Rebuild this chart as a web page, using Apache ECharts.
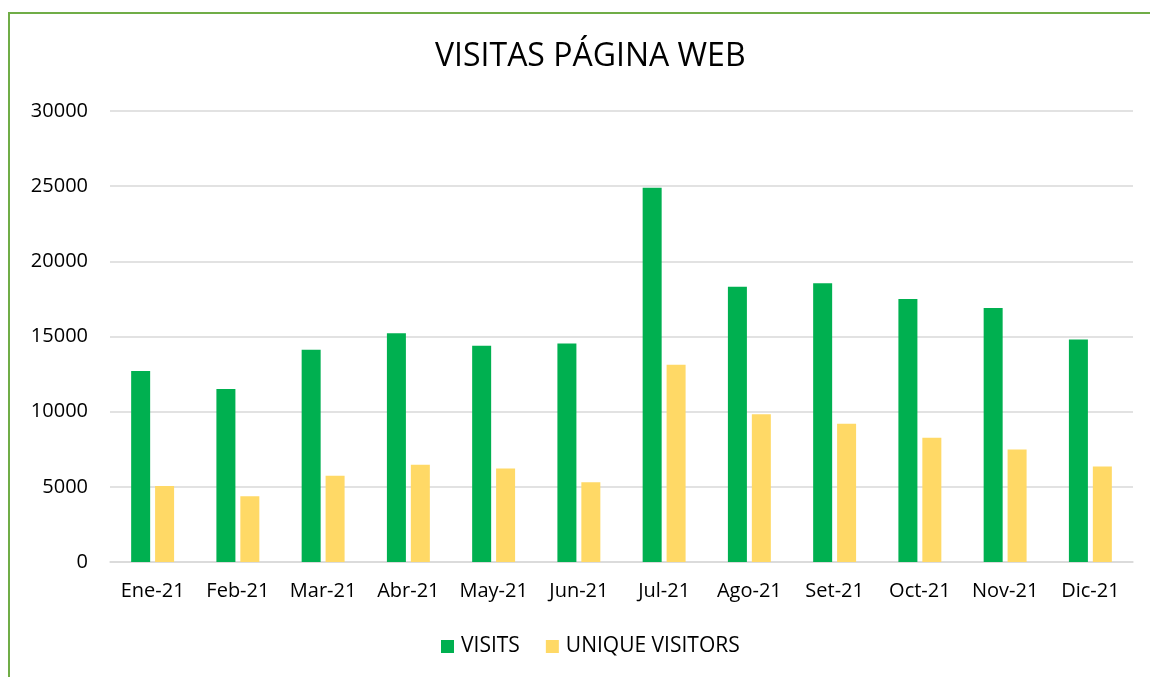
<!DOCTYPE html>
<html>
<head>
<meta charset="utf-8">
<script src="https://cdn.jsdelivr.net/npm/echarts@6/dist/echarts.min.js"></script>
<style>
    html, body { margin: 0; padding: 0; background: #fff; }
    #wrap { position: relative; width: 1150px; height: 677px; overflow: hidden; }
    #frame {
        position: absolute; left: 8px; top: 12px; width: 1200px; height: 700px;
        border-left: 2px solid #70AD47; border-top: 2px solid #70AD47;
    }
    #chart { position: absolute; left: 0; top: 0; width: 1150px; height: 677px; }
</style>
</head>
<body>
<div id="wrap">
    <div id="frame"></div>
    <div id="chart"></div>
</div>
<script>
const months = ['Ene-21', 'Feb-21', 'Mar-21', 'Abr-21', 'May-21', 'Jun-21',
    'Jul-21', 'Ago-21', 'Set-21', 'Oct-21', 'Nov-21', 'Dic-21']
const visits = [12700, 11500, 14120, 15220, 14380, 14540, 24900, 18310, 18550, 17500, 16900, 14800]
const uniqueVisitors = [5050, 4380, 5740, 6470, 6220, 5300, 13120, 9830, 9200, 8260, 7480, 6350]

const font = '"Open Sans", "Noto Sans", sans-serif'
const chart = echarts.init(document.getElementById('chart'))

chart.setOption({
    animation: false,
    color: ['#00B050', '#FFD966'],
    title: {
        text: 'VISITAS PÁGINA WEB',
        left: 430,
        top: 36,
        textStyle: { color: '#000', fontSize: 32, fontWeight: 'normal', fontFamily: font }
    },
    legend: {
        bottom: 15,
        left: 436,
        itemWidth: 13,
        itemHeight: 13,
        itemGap: 26,
        icon: 'rect',
        textStyle: { color: '#000', fontSize: 21, fontFamily: font, padding: [0, 0, 0, 2] },
        data: ['VISITS', 'UNIQUE VISITORS']
    },
    grid: { left: 110, right: 17, top: 111, bottom: 115, containLabel: false },
    xAxis: {
        type: 'category',
        data: months,
        axisTick: { show: false },
        axisLine: { lineStyle: { color: '#D9D9D9', width: 1.5 } },
        axisLabel: { color: '#000', fontSize: 20, fontFamily: font, margin: 19, interval: 0 }
    },
    yAxis: {
        type: 'value',
        min: 0,
        max: 30000,
        interval: 5000,
        axisLine: { show: false },
        axisTick: { show: false },
        splitLine: { lineStyle: { color: '#D9D9D9', width: 1.5 } },
        axisLabel: { color: '#000', fontSize: 20, fontFamily: font, margin: 22, formatter: v => String(v) }
    },
    series: [
        { name: 'VISITS', type: 'bar', data: visits, barWidth: 19, barGap: '26%' },
        { name: 'UNIQUE VISITORS', type: 'bar', data: uniqueVisitors, barWidth: 19, barGap: '26%' }
    ]
})
</script>
</body>
</html>
